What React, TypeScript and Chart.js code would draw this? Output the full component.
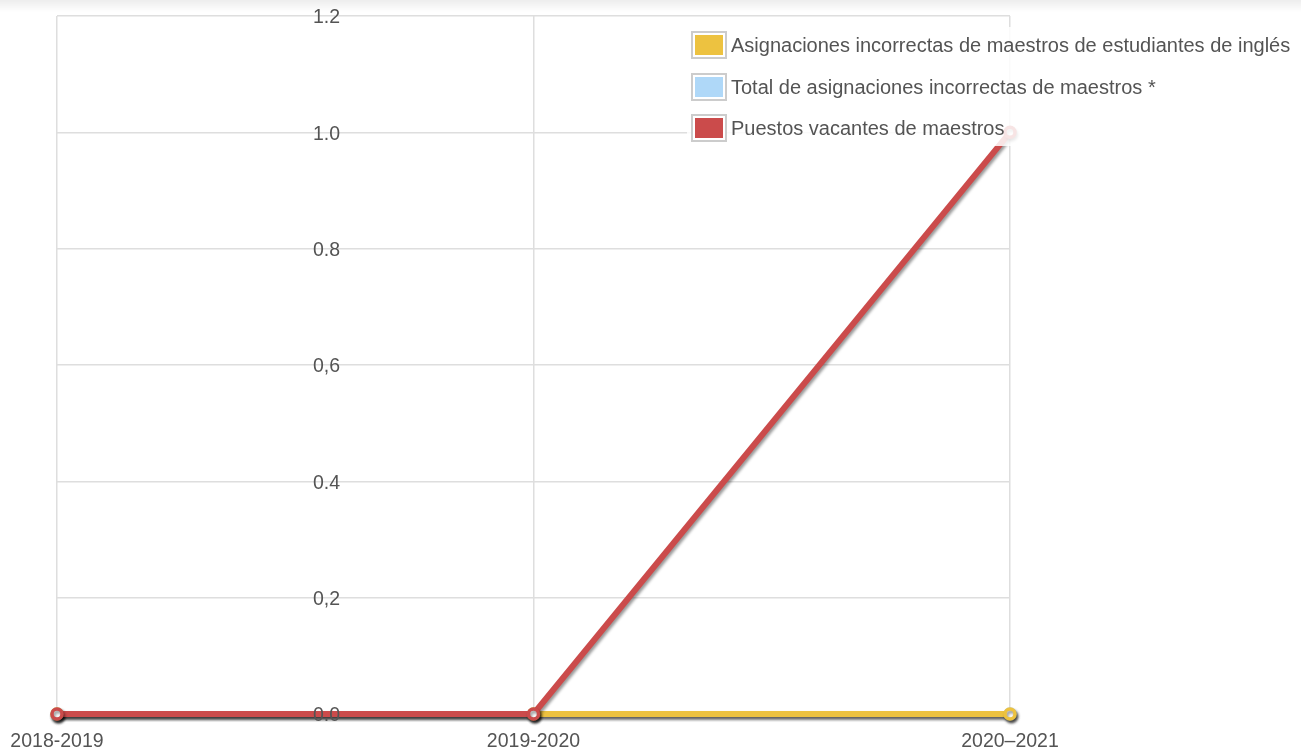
import React, { useEffect, useRef } from 'react';
import { Chart, registerables } from 'chart.js';

Chart.register(...registerables);

const categories = ['2018-2019', '2019-2020', '2020–2021'];
const seriesNames = [
  'Asignaciones incorrectas de maestros de estudiantes de inglés',
  'Total de asignaciones incorrectas de maestros *',
  'Puestos vacantes de maestros',
];
const englishLearnerMisassignments = [0, 0, 0];
const totalMisassignments = [0, 0, 0];
const vacantTeacherPositions = [0, 0, 1];
const yTickLabels = ['0.0', '0,2', '0.4', '0,6', '0.8', '1.0', '1.2'];
const seriesColors = ['#edc240', '#afd8f8', '#cb4b4b'];

const FONT = '"Liberation Sans", Arial, sans-serif';
const TEXT_COLOR = '#545454';
const GRID_COLOR = '#dedede';

const shadowPlugin = {
  id: 'lineShadow',
  beforeDatasetsDraw(chart: any) {
    const c = chart.ctx;
    c.save();
    c.shadowColor = 'rgba(0,0,0,0.4)';
    c.shadowBlur = 3;
    c.shadowOffsetX = 1.5;
    c.shadowOffsetY = 2.5;
  },
  afterDatasetsDraw(chart: any) {
    chart.ctx.restore();
  },
};

export default function App() {
  const canvasRef = useRef<HTMLCanvasElement | null>(null);

  useEffect(() => {
    if (!canvasRef.current) return;
    const seriesData = [englishLearnerMisassignments, totalMisassignments, vacantTeacherPositions];
    const orders = [1, 2, 0];
    const chart = new Chart(canvasRef.current, {
      type: 'line',
      data: {
        labels: categories,
        datasets: seriesNames.map((name, i) => ({
          label: name,
          data: seriesData[i],
          borderColor: seriesColors[i],
          backgroundColor: seriesColors[i],
          borderWidth: 6,
          pointRadius: 5,
          pointBorderWidth: 3.5,
          pointBackgroundColor: '#ffffff',
          pointBorderColor: seriesColors[i],
          tension: 0,
          fill: false,
          clip: false,
          order: orders[i],
        })),
      },
      options: {
        responsive: false,
        animation: false,
        layout: { padding: { top: 16, right: 291, left: 0, bottom: 0 } },
        plugins: {
          legend: { display: false },
          tooltip: { enabled: false },
        },
        scales: {
          x: {
            offset: false,
            grid: { display: true, color: GRID_COLOR, lineWidth: 1.5, drawTicks: false },
            border: { display: false },
            ticks: {
              color: TEXT_COLOR,
              font: { family: FONT, size: 19.5 },
              padding: 16,
              maxRotation: 0,
              autoSkip: false,
            },
            afterFit: (scale: any) => {
              scale.height = 39;
              scale.paddingLeft = 0;
              scale.paddingRight = 0;
            },
          },
          y: {
            min: 0,
            max: 1.2,
            grid: { color: GRID_COLOR, lineWidth: 1.5, drawTicks: false },
            border: { display: false },
            ticks: {
              stepSize: 0.2,
              mirror: true,
              z: 1,
              labelOffset: 2,
              color: TEXT_COLOR,
              font: { family: FONT, size: 19.5 },
              padding: 256,
              callback: (value: any) => yTickLabels[Math.round(Number(value) / 0.2)],
            },
            afterFit: (scale: any) => {
              scale.width = 57;
              scale.paddingTop = 0;
              scale.paddingBottom = 0;
            },
          },
        },
      },
      plugins: [shadowPlugin],
    });
    return () => chart.destroy();
  }, []);

  return (
    <div
      style={{
        position: 'absolute',
        left: 0,
        top: 0,
        width: 1301,
        height: 753,
        background: '#ffffff',
        overflow: 'hidden',
        fontFamily: FONT,
      }}
    >
      <canvas ref={canvasRef} width={1301} height={753} style={{ position: 'absolute', left: 0, top: 0, width: 1301, height: 753 }} />
      <div
        style={{
          position: 'absolute',
          left: 0,
          top: 0,
          width: 1301,
          height: 12,
          background: 'linear-gradient(to bottom, rgba(0,0,0,0.07), rgba(0,0,0,0))',
          pointerEvents: 'none',
        }}
      />
      <div
        style={{
          position: 'absolute',
          left: 687,
          top: 27,
          width: 610,
          height: 119,
          background: 'rgba(255,255,255,0.85)',
        }}
      />
      {seriesNames.map((name, i) => (
        <div
          key={name}
          style={{
            position: 'absolute',
            left: 691,
            top: 31 + i * 41.5,
            height: 28,
            display: 'flex',
            alignItems: 'center',
            whiteSpace: 'nowrap',
          }}
        >
          <div style={{ border: '2px solid #cccccc', padding: 2, background: '#fff' }}>
            <div style={{ width: 28, height: 20, background: seriesColors[i] }} />
          </div>
          <span style={{ marginLeft: 4, fontSize: 20, color: TEXT_COLOR, lineHeight: '28px' }}>{name}</span>
        </div>
      ))}
    </div>
  );
}
